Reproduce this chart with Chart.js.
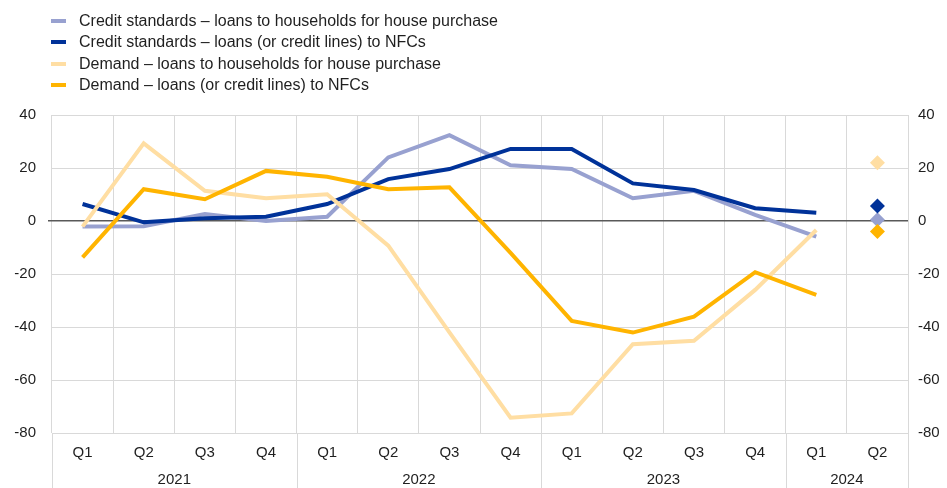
<!doctype html>
<html lang="en">
<head>
  <meta charset="utf-8">
  <script src="https://cdn.jsdelivr.net/npm/chart.js@4/dist/chart.umd.min.js"></script>
  <style>
    body { margin: 0; background: #fff; font-family: "Liberation Sans", Arial, sans-serif; }
    .wrap { position: relative; width: 947px; height: 488px; }
    #legend { position: absolute; left: 51px; top: 10px; font-size: 16px; color: #1f1f1f; }
    #legend div { height: 21.4px; line-height: 21.4px; white-space: nowrap; }
    #legend span { display: inline-block; width: 15px; height: 4px; vertical-align: middle; margin-right: 13px; position: relative; top: -1px; }
  </style>
</head>
<body>
<div class="wrap">
  <canvas id="chart" width="947" height="488"></canvas>
  <div id="legend"></div>
</div>
<script>
  // quarters Q1 2021 - Q2 2024
  const quarters = ['Q1', 'Q2', 'Q3', 'Q4', 'Q1', 'Q2', 'Q3', 'Q4', 'Q1', 'Q2', 'Q3', 'Q4', 'Q1', 'Q2'];
  const years = ['2021', '2022', '2023', '2024'];
  const yearQuarters = [4, 4, 4, 2];

  const names = [
    'Credit standards \u2013 loans to households for house purchase',
    'Credit standards \u2013 loans (or credit lines) to NFCs',
    'Demand \u2013 loans to households for house purchase',
    'Demand \u2013 loans (or credit lines) to NFCs'
  ];
  const colors = ['#98a1d0', '#003299', '#ffdea3', '#ffb400'];

  // realised, Q1 2021 - Q1 2024
  const csHouse = [-2.1, -2, 2.6, 0, 1.6, 24, 32.4, 21, 19.6, 8.6, 11.4, 2.3, -5.9];
  const csNfc = [6.4, -0.5, 1, 1.6, 6.4, 15.8, 19.6, 27.2, 27.2, 14.2, 11.7, 4.8, 3.1];
  const dmHouse = [-2.1, 29.3, 11.4, 8.6, 10.1, -9.3, -42, -74.2, -72.6, -46.5, -45.2, -26, -3.4];
  const dmNfc = [-13.7, 12, 8.2, 18.9, 16.7, 12, 12.7, -12, -37.7, -42.1, -36.1, -19.3, -27.9];
  // expected, Q2 2024
  const outlook = [0.5, 5.7, 22, -4];

  const yTicks = [40, 20, 0, -20, -40, -60, -80];

  const series = [csHouse, csNfc, dmHouse, dmNfc];
  const lineOrder = [7, 6, 5, 4];
  const dotOrder = [3, 1, 2, 0];

  const datasets = [];
  series.forEach((s, i) => {
    datasets.push({
      label: names[i],
      data: s,
      borderColor: colors[i],
      backgroundColor: colors[i],
      borderWidth: 4,
      pointRadius: 0,
      tension: 0,
      order: lineOrder[i],
      yAxisID: 'y'
    });
  });
  outlook.forEach((v, i) => {
    const d = quarters.map(() => null);
    d[quarters.length - 1] = v;
    datasets.push({
      label: names[i] + ' (expected)',
      data: d,
      showLine: false,
      pointStyle: 'rectRot',
      pointRadius: 7.5,
      pointBorderWidth: 0,
      borderColor: colors[i],
      backgroundColor: colors[i],
      order: dotOrder[i],
      yAxisID: 'y'
    });
  });

  // html legend
  const legend = document.getElementById('legend');
  names.forEach((n, i) => {
    const row = document.createElement('div');
    row.innerHTML = '<span style="background:' + colors[i] + '"></span>' + n;
    legend.appendChild(row);
  });

  const yearAxis = {
    id: 'yearAxis',
    afterDraw(chart) {
      const x = chart.scales.x;
      const ctx = chart.ctx;
      const half = (x.getPixelForValue(1) - x.getPixelForValue(0)) / 2;
      const top = chart.chartArea.bottom;
      const bottom = chart.height;
      ctx.save();
      ctx.strokeStyle = '#d9d9d9';
      ctx.lineWidth = 1;
      ctx.fillStyle = '#1f1f1f';
      ctx.font = '15px "Liberation Sans", Arial, sans-serif';
      ctx.textAlign = 'center';
      ctx.textBaseline = 'middle';
      let start = 0;
      years.forEach((yr, i) => {
        const l = x.getPixelForValue(start) - half;
        const r = x.getPixelForValue(start + yearQuarters[i] - 1) + half;
        ctx.beginPath();
        ctx.moveTo(Math.round(l) + 0.5, top);
        ctx.lineTo(Math.round(l) + 0.5, bottom);
        ctx.moveTo(Math.round(r) + 0.5, top);
        ctx.lineTo(Math.round(r) + 0.5, bottom);
        ctx.stroke();
        ctx.fillText(yr, (l + r) / 2, 480);
        start += yearQuarters[i];
      });
      ctx.restore();
    }
  };

  const tickFont = { family: '"Liberation Sans", Arial, sans-serif', size: 15 };

  new Chart(document.getElementById('chart'), {
    type: 'line',
    data: { labels: quarters, datasets: datasets },
    options: {
      responsive: false,
      devicePixelRatio: 1,
      animation: false,
      layout: { padding: { top: 115, left: 0, right: 0, bottom: 0 } },
      plugins: { legend: { display: false }, tooltip: { enabled: false } },
      scales: {
        x: {
          type: 'category',
          offset: true,
          grid: { offset: true, color: '#d9d9d9', drawTicks: false },
          border: { display: false },
          ticks: { color: '#1f1f1f', font: tickFont, padding: 11, maxRotation: 0, autoSkip: false },
          afterFit(s) { s.height = 55; }
        },
        y: {
          position: 'left',
          min: -80,
          max: 40,
          afterBuildTicks(s) { s.ticks = yTicks.map(v => ({ value: v })); },
          grid: {
            color: c => (c.tick && c.tick.value === 0 ? '#595959' : '#d9d9d9'),
            lineWidth: c => (c.tick && c.tick.value === 0 ? 1.5 : 1),
            tickLength: 4,
            tickColor: c => (c.tick && c.tick.value === 0 ? '#595959' : 'rgba(0,0,0,0)')
          },
          border: { display: false },
          ticks: { color: '#1f1f1f', font: tickFont, padding: 12 },
          afterFit(s) { s.width = 52; }
        },
        y2: {
          position: 'right',
          min: -80,
          max: 40,
          afterBuildTicks(s) { s.ticks = yTicks.map(v => ({ value: v })); },
          grid: { display: false, drawTicks: false },
          border: { display: false },
          ticks: { color: '#1f1f1f', font: tickFont, padding: 10 },
          afterFit(s) { s.width = 39; }
        }
      }
    },
    plugins: [yearAxis]
  });
</script>
</body>
</html>
